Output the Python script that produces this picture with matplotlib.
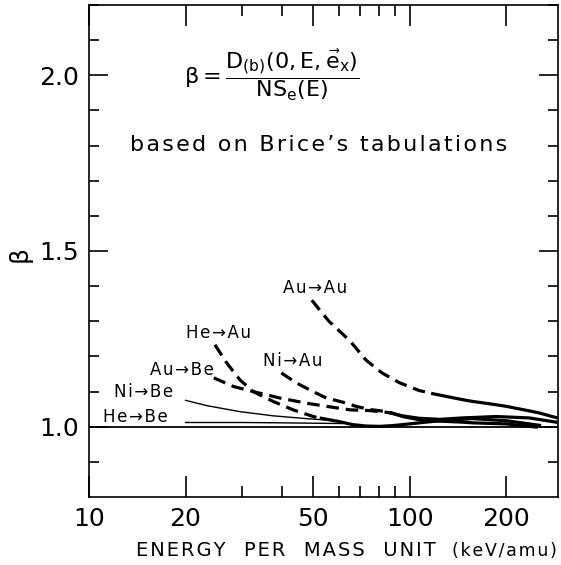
import numpy as np
import matplotlib
matplotlib.use("Agg")
import matplotlib.pyplot as plt
from matplotlib.ticker import FixedLocator, FixedFormatter

plt.rcParams['font.family'] = ['DejaVu Sans']
plt.rcParams['mathtext.fontset'] = 'dejavusans'
plt.rcParams['mathtext.default'] = 'regular'
plt.rcParams['lines.scale_dashes'] = False

# energy per mass unit (keV/amu) and beta
au_au_dash_e = [49.5, 56, 65, 73, 82, 93, 107, 118]
au_au_dash_b = [1.36, 1.30, 1.245, 1.19, 1.153, 1.125, 1.103, 1.094]
au_au_solid_e = [118, 146, 157, 186, 200, 236, 254, 286]
au_au_solid_b = [1.094, 1.077, 1.072, 1.0625, 1.058, 1.045, 1.039, 1.026]

he_au_dash_e = [24.7, 26.9, 29.5, 32.5, 37.5, 43.3, 50, 53]
he_au_dash_b = [1.233, 1.181, 1.134, 1.100, 1.072, 1.048, 1.029, 1.024]
he_au_solid_e = [53, 60, 66.4, 73, 80.6, 88, 95, 107, 124, 157, 200, 254]
he_au_solid_b = [1.024, 1.015, 1.006, 1.002, 1.001, 1.003, 1.006, 1.011, 1.017, 1.023, 1.017, 1.004]

ni_au_dash_e = [39.8, 44.4, 50, 55, 61.8, 68, 75, 84.6, 88]
ni_au_dash_b = [1.153, 1.124, 1.100, 1.0815, 1.070, 1.058, 1.049, 1.043, 1.039]
ni_au_solid_e = [88, 95, 107, 124, 146, 157, 200, 248]
ni_au_solid_b = [1.039, 1.029, 1.020, 1.016, 1.013, 1.011, 1.008, 0.999]

au_be_dash_e = [24.5, 28.2, 32.5, 39.4, 47.6, 55, 65, 75, 84.6, 88]
au_be_dash_b = [1.139, 1.1145, 1.100, 1.0815, 1.067, 1.058, 1.048, 1.046, 1.041, 1.038]
au_be_solid_e = [88, 95, 107, 124, 146, 186, 236, 286]
au_be_solid_b = [1.038, 1.031, 1.024, 1.021, 1.025, 1.029, 1.025, 1.013]

ni_be_e = [20, 23.3, 29.5, 37.5, 47.6, 59, 62]
ni_be_b = [1.075, 1.060, 1.043, 1.031, 1.023, 1.017, 1.012]
he_be_e = [20, 30, 40, 50, 62]
he_be_b = [1.012, 1.012, 1.011, 1.010, 1.009]

labels = ["Au\u2192Au", "He\u2192Au", "Ni\u2192Au", "Au\u2192Be", "Ni\u2192Be", "He\u2192Be"]
label_e = [50.6, 25.4, 43.3, 19.5, 14.75, 14.0]
label_b = [1.395, 1.268, 1.188, 1.160, 1.0985, 1.0275]

x_major = [10, 20, 50, 100, 200]
x_minor = [30, 40, 60, 70, 80, 90]
y_major = [1.0, 1.5, 2.0]


def spaced(s):
    # the original lettering is set wide
    return '\u200a'.join(s)


fig = plt.figure(figsize=(5.61, 5.65), dpi=100)
ax = fig.add_axes([89 / 561, 1 - 497 / 565, 469 / 561, 492 / 565])

thick = 2.3
dash = (0, (9, 5))
ax.axhline(1.0, color='black', lw=1.3)
ax.plot(au_au_dash_e, au_au_dash_b, color='black', lw=thick, linestyle=dash)
ax.plot(au_au_solid_e, au_au_solid_b, color='black', lw=thick)
ax.plot(he_au_dash_e, he_au_dash_b, color='black', lw=thick, linestyle=dash)
ax.plot(he_au_solid_e, he_au_solid_b, color='black', lw=thick)
ax.plot(ni_au_dash_e, ni_au_dash_b, color='black', lw=thick, linestyle=dash)
ax.plot(ni_au_solid_e, ni_au_solid_b, color='black', lw=thick)
ax.plot(au_be_dash_e, au_be_dash_b, color='black', lw=thick, linestyle=dash)
ax.plot(au_be_solid_e, au_be_solid_b, color='black', lw=thick)
ax.plot(ni_be_e, ni_be_b, color='black', lw=1.0)
ax.plot(he_be_e, he_be_b, color='black', lw=1.0)

for txt, e, b in zip(labels, label_e, label_b):
    ax.text(e, b, spaced(txt), fontsize=12, ha='center', va='center')

ax.text(0.389, 0.858, r'$\beta = \dfrac{D_{(b)}(0,E,\vec{e}_x)}{NS_e(E)}$',
        transform=ax.transAxes, fontsize=16, ha='center', va='center')
ax.text(0.49, 0.715, spaced("based on Brice\u2019s tabulations"), transform=ax.transAxes,
        fontsize=16, ha='center', va='center')

ax.set_xscale('log')
ax.set_xlim(10, 290)
ax.set_ylim(0.8, 2.2)

ax.xaxis.set_major_locator(FixedLocator(x_major))
ax.xaxis.set_major_formatter(FixedFormatter([str(v) for v in x_major]))
ax.xaxis.set_minor_locator(FixedLocator(x_minor))
ax.xaxis.set_minor_formatter(FixedFormatter([''] * len(x_minor)))
ax.yaxis.set_major_locator(FixedLocator(y_major))
ax.yaxis.set_major_formatter(FixedFormatter(['%.1f' % v for v in y_major]))
ax.yaxis.set_minor_locator(FixedLocator(np.arange(0.9, 2.2, 0.1)))

ax.tick_params(which='both', direction='in', top=True, right=True, width=1.2, labelsize=18)
ax.tick_params(axis='x', which='major', length=15, pad=7)
ax.tick_params(axis='x', which='minor', length=8)
ax.tick_params(axis='y', which='major', length=14, pad=7)
ax.tick_params(axis='y', which='minor', length=7)
for sp in ax.spines.values():
    sp.set_linewidth(1.2)

fig.text(20 / 561, 1 - 254 / 565, "\u03b2", rotation=90, fontsize=18, ha='center', va='center')
fig.text(136 / 561, 1 - 556 / 565, spaced("ENERGY  PER  MASS  UNIT"), fontsize=14,
         ha='left', va='baseline')
fig.text(557 / 561, 1 - 556 / 565, spaced("(keV/amu)"), fontsize=12.5, ha='right', va='baseline')

fig.savefig("out.png", dpi=100)
